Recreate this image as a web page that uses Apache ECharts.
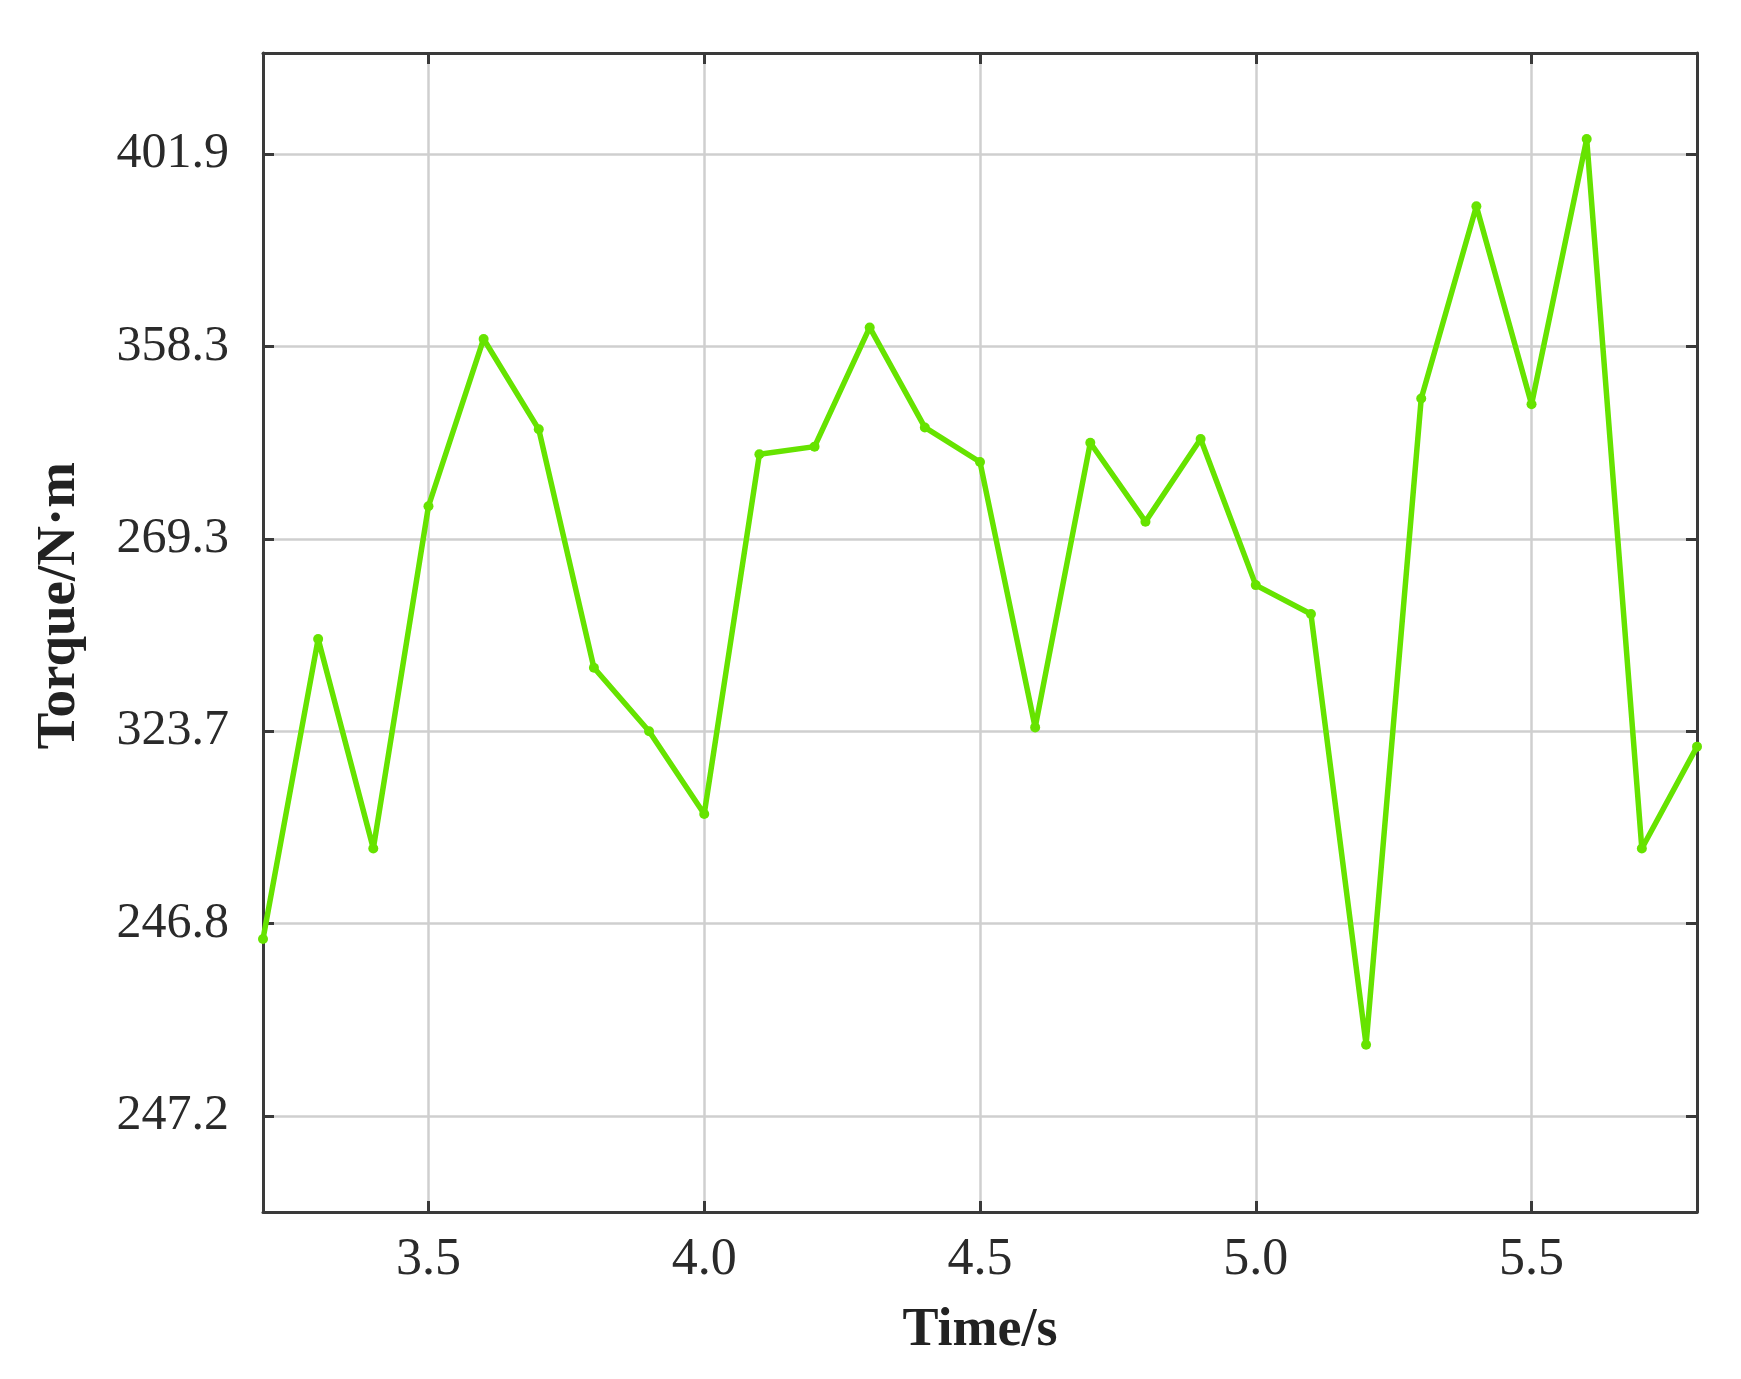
<!DOCTYPE html>
<html>
<head>
<meta charset="utf-8">
<script src="https://cdn.jsdelivr.net/npm/echarts@6/dist/echarts.min.js"></script>
<style>html,body{margin:0;padding:0;background:#fff;}#c{width:1741px;height:1379px;}</style>
</head>
<body>
<div id="c"></div>
<script>
// Time values (s)
const times = [3.2,3.3,3.4,3.5,3.6,3.7,3.8,3.9,4.0,4.1,4.2,4.3,4.4,4.5,4.6,4.7,4.8,4.9,5.0,5.1,5.2,5.3,5.4,5.5,5.6,5.7,5.8];
// Torque readings, expressed as position along the labelled y-grid (0 = first grid line from bottom)
const torquePos = [0.92,2.48,1.39,3.17,4.04,3.57,2.33,2.00,1.57,3.44,3.48,4.10,3.58,3.40,2.02,3.50,3.09,3.52,2.76,2.61,0.37,3.73,4.73,3.70,5.08,1.39,1.92];
// Y tick labels as printed on the chart, bottom to top
const yTickLabels = ['247.2','246.8','323.7','269.3','358.3','401.9'];
const yTickPos = [0,1,2,3,4,5];
// X tick values
const xTicks = [3.5,4.0,4.5,5.0,5.5];

const axisColor = '#3a3a3a';
const gridColor = '#cfcfcf';
const serif = '"Liberation Serif", "DejaVu Serif", serif';

const chart = echarts.init(document.getElementById('c'));
const baseX = {
  type: 'value', min: 3.2, max: 5.8,
  axisLine: {show: true, onZero: false, lineStyle: {color: axisColor, width: 3}},
  axisTick: {show: true, inside: true, length: 11, customValues: xTicks, lineStyle: {color: axisColor, width: 3}},
  axisLabel: {show: false, customValues: xTicks},
  splitLine: {show: false}
};
const baseY = {
  type: 'value', min: -0.5, max: 5.527,
  axisLine: {show: true, onZero: false, lineStyle: {color: axisColor, width: 3}},
  axisTick: {show: true, inside: true, length: 11, customValues: yTickPos, lineStyle: {color: axisColor, width: 3}},
  axisLabel: {show: false, customValues: yTickPos},
  splitLine: {show: false}
};
chart.setOption({
  animation: false,
  backgroundColor: '#ffffff',
  grid: {left: 263, right: 44, top: 53, bottom: 167, containLabel: false},
  xAxis: [
    Object.assign({}, baseX, {
      position: 'bottom',
      name: 'Time/s', nameLocation: 'middle', nameGap: 92,
      nameTextStyle: {fontFamily: serif, fontSize: 54, fontWeight: 'bold', color: '#222'},
      axisLabel: {show: true, customValues: xTicks, margin: 22, fontFamily: serif, fontSize: 52, color: '#2a2a2a',
        formatter: v => Number(v).toFixed(1)},
      splitLine: {show: true, lineStyle: {color: gridColor, width: 2.5}}
    }),
    Object.assign({}, baseX, {position: 'top'})
  ],
  yAxis: [
    Object.assign({}, baseY, {
      position: 'left',
      name: 'Torque/N·m', nameLocation: 'middle', nameGap: 176,
      nameTextStyle: {fontFamily: serif, fontSize: 55, fontWeight: 'bold', color: '#222', padding: [0,0,0,54]},
      axisLabel: {show: true, customValues: yTickPos, margin: 34, fontFamily: serif, fontSize: 50, color: '#2a2a2a',
        formatter: v => yTickLabels[Math.round(v)]},
      splitLine: {show: true, lineStyle: {color: gridColor, width: 2.5}}
    }),
    Object.assign({}, baseY, {position: 'right'})
  ],
  series: [{
    type: 'line',
    data: times.map((t, i) => [t, torquePos[i]]),
    symbol: 'circle', symbolSize: 10,
    lineStyle: {color: '#66e300', width: 5.5},
    itemStyle: {color: '#66e300'},
    clip: true
  }]
});
</script>
</body>
</html>
